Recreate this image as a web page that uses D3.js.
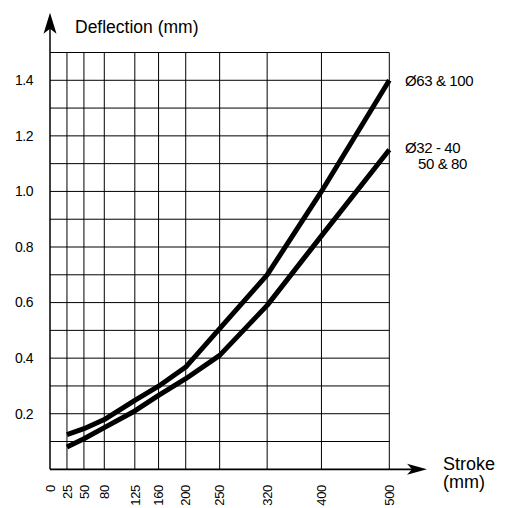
<!DOCTYPE html>
<html>
<head>
<meta charset="utf-8">
<script src="https://cdn.jsdelivr.net/npm/d3@7"></script>
<style>
    body { margin: 0; background: #fff; }
    svg { display: block; font-family: "Liberation Sans", Arial, sans-serif; }
</style>
</head>
<body>
<svg id="chart" width="506" height="508"></svg>
<script>
// stroke ticks (mm) along the bottom
const strokeTicks = [0, 25, 50, 80, 125, 160, 200, 250, 320, 400, 500];
// deflection tick labels
const deflTicks = [0.2, 0.4, 0.6, 0.8, 1.0, 1.2, 1.4];
// horizontal grid every 0.1
const deflGrid = [0.1, 0.2, 0.3, 0.4, 0.5, 0.6, 0.7, 0.8, 0.9, 1.0, 1.1, 1.2, 1.3, 1.4, 1.5];

// curves
const strokes = [25, 50, 80, 125, 160, 200, 250, 320, 400, 500];
const bore63 = [0.125, 0.146, 0.179, 0.248, 0.299, 0.368, 0.506, 0.70, 1.00, 1.40];
const bore32 = [0.08, 0.11, 0.15, 0.21, 0.266, 0.326, 0.41, 0.59, 0.84, 1.15];

function chart()
{
    let svg = d3.select("#chart");

    let x = d3.scaleLinear()
        .domain([0, 500])
        .range([50, 389.3]);

    let y = d3.scaleLinear()
        .domain([0, 1.5])
        .range([469.3, 52.5]);

    let grid = svg.append("g")
        .attr("stroke", "#000")
        .attr("stroke-width", 1);

    // vertical grid lines
    grid.selectAll(".vg")
        .data(strokeTicks.slice(1))
        .join("line")
        .attr("x1", d => x(d)).attr("x2", d => x(d))
        .attr("y1", y(0)).attr("y2", y(1.5));

    // horizontal grid lines
    grid.selectAll(".hg")
        .data(deflGrid)
        .join("line")
        .attr("x1", x(0)).attr("x2", x(500))
        .attr("y1", d => y(d)).attr("y2", d => y(d));

    // axes with arrows
    svg.append("line")
        .attr("x1", x(0)).attr("x2", x(0))
        .attr("y1", y(0)).attr("y2", 20)
        .attr("stroke", "#000").attr("stroke-width", 1.5);
    svg.append("path")
        .attr("transform", "translate(" + x(0) + ",12.7)")
        .attr("d", "M0,0 L6.5,21 L0,16 L-6.5,21 Z")
        .attr("fill", "#000");

    svg.append("line")
        .attr("x1", x(0)).attr("x2", 420)
        .attr("y1", y(0)).attr("y2", y(0))
        .attr("stroke", "#000").attr("stroke-width", 1.8);
    svg.append("path")
        .attr("transform", "translate(427," + y(0) + ")")
        .attr("d", "M0,0 L-20,-5.5 L-15,0 L-20,5.5 Z")
        .attr("fill", "#000");

    // x tick labels, rotated
    svg.append("g")
        .attr("font-size", 13)
        .attr("letter-spacing", "-0.3px")
        .selectAll("text")
        .data(strokeTicks)
        .join("text")
        .attr("transform", d => "translate(" + x(d) + ",485) rotate(-90)")
        .attr("text-anchor", "end")
        .attr("dy", "0.36em")
        .text(d => d);

    // y tick labels
    svg.append("g")
        .attr("font-size", 14)
        .attr("letter-spacing", "-0.5px")
        .selectAll("text")
        .data(deflTicks)
        .join("text")
        .attr("x", 15)
        .attr("y", d => y(d))
        .attr("dy", "0.35em")
        .text(d => d.toFixed(1));

    // axis titles
    svg.append("text")
        .attr("x", 75).attr("y", 33)
        .attr("font-size", 17.5)
        .text("Deflection (mm)");

    let st = svg.append("text")
        .attr("x", 443).attr("font-size", 18);
    st.append("tspan").attr("x", 443).attr("y", 469.5).text("Stroke");
    st.append("tspan").attr("x", 443).attr("y", 488).text("(mm)");

    // curves
    let line = d3.line()
        .x(d => x(d[0]))
        .y(d => y(d[1]));

    [bore63, bore32].forEach(function (vals) {
        svg.append("path")
            .datum(strokes.map((s, i) => [s, vals[i]]))
            .attr("d", line)
            .attr("fill", "none")
            .attr("stroke", "#000")
            .attr("stroke-width", 5)
            .attr("stroke-linejoin", "round");
    });

    // curve labels
    let lab = svg.append("g")
        .attr("font-size", 15)
        .attr("letter-spacing", "-0.4px");
    lab.append("text").attr("x", 405).attr("y", 86).text("Ø63 & 100");
    lab.append("text").attr("x", 405).attr("y", 152.5).text("Ø32 - 40");
    lab.append("text").attr("x", 418).attr("y", 168.5).text("50 & 80");
}

chart();
</script>
</body>
</html>
